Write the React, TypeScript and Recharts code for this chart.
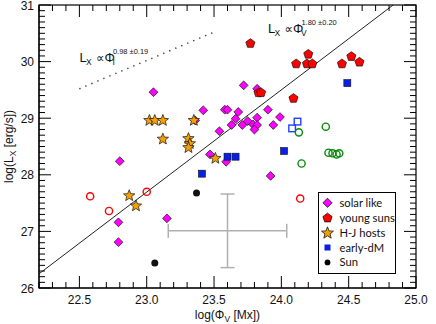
import React from "react";
import {
  ErrorBar,
  Legend,
  ReferenceDot,
  ReferenceLine,
  Scatter,
  ScatterChart,
  XAxis,
  YAxis,
} from "recharts";

// log(Phi_V [Mx]) vs log(L_X [erg/s])
const solarLike = [
  { x: 22.8, y: 28.24 }, { x: 22.79, y: 27.16 }, { x: 22.79, y: 26.81 },
  { x: 23.15, y: 27.23 }, { x: 23.05, y: 29.46 }, { x: 23.42, y: 29.14 },
  { x: 23.36, y: 28.96 }, { x: 23.47, y: 28.36 }, { x: 23.59, y: 28.23 },
  { x: 23.72, y: 29.58 }, { x: 23.82, y: 29.52 }, { x: 23.58, y: 29.15 },
  { x: 23.6, y: 29.15 }, { x: 23.68, y: 29.11 }, { x: 23.66, y: 28.99 },
  { x: 23.75, y: 28.95 }, { x: 23.82, y: 29.01 }, { x: 23.9, y: 29.15 },
  { x: 23.99, y: 29.02 }, { x: 23.63, y: 28.88 }, { x: 23.71, y: 28.88 },
  { x: 23.79, y: 28.89 }, { x: 23.82, y: 28.88 }, { x: 23.8, y: 28.8 },
  { x: 23.94, y: 28.88 }, { x: 23.54, y: 28.77 }, { x: 23.92, y: 27.98 },
];
const youngSuns = [
  { x: 23.77, y: 30.32 }, { x: 24.2, y: 30.13 }, { x: 24.11, y: 29.96 },
  { x: 24.19, y: 29.96 }, { x: 24.23, y: 29.96 }, { x: 24.45, y: 29.96 },
  { x: 24.52, y: 30.09 }, { x: 24.58, y: 29.99 }, { x: 23.83, y: 29.45 },
  { x: 23.85, y: 29.45 }, { x: 24.09, y: 29.35 },
];
const redOpen = [
  { x: 22.58, y: 27.62 }, { x: 22.72, y: 27.36 }, { x: 23.0, y: 27.7 }, { x: 24.14, y: 27.58 },
];
const hjHosts = [
  { x: 23.02, y: 28.96 }, { x: 23.06, y: 28.96 }, { x: 23.12, y: 28.96 },
  { x: 23.35, y: 28.96 }, { x: 23.12, y: 28.63 }, { x: 23.31, y: 28.64 },
  { x: 23.32, y: 28.55 }, { x: 23.31, y: 28.48 }, { x: 23.51, y: 28.29 },
  { x: 22.87, y: 27.63 }, { x: 22.92, y: 27.45 },
];
const earlyDM = [
  { x: 24.49, y: 29.62 }, { x: 24.02, y: 28.42 }, { x: 23.6, y: 28.32 },
  { x: 23.66, y: 28.32 }, { x: 23.41, y: 28.02 },
];
const earlyDMOpen = [{ x: 24.08, y: 28.82 }, { x: 24.12, y: 28.94 }];
const greenOpen = [
  { x: 24.13, y: 28.75 }, { x: 24.33, y: 28.85 }, { x: 24.15, y: 28.2 },
  { x: 24.35, y: 28.39 }, { x: 24.38, y: 28.38 }, { x: 24.41, y: 28.36 }, { x: 24.43, y: 28.38 },
];
const sun = [{ x: 23.37, y: 27.68 }, { x: 23.06, y: 26.44 }];
const typicalError = [{ x: 23.6, y: 27.01, ex: 0.44, ey: 0.65 }];

// power-law fits
const fitV = [{ x: 22.2, y: 26.25 }, { x: 24.83, y: 31.0 }];
const fitI = [{ x: 22.5, y: 29.52 }, { x: 23.49, y: 30.51 }];

const xDomain = [22.2, 25.0];
const yDomain = [26, 31];
const xMajor = [22.5, 23.0, 23.5, 24.0, 24.5, 25.0];
const yMajor = [26, 27, 28, 29, 30, 31];
const legendItems = ["solar like", "young suns", "H-J hosts", "early-dM", "Sun"];

const minorTicks = (lo: number, hi: number) => {
  const out: number[] = [];
  for (let v = Math.round(lo * 10); v <= Math.round(hi * 10); v++) out.push(v / 10);
  return out;
};
const xTicks = minorTicks(xDomain[0], xDomain[1]);
const yTicks = minorTicks(yDomain[0], yDomain[1]);
const isMajor = (v: number, list: number[]) => list.some((m) => Math.abs(m - v) < 1e-6);

// chart geometry: plot box follows from the margins and axis sizes below
const W = 436;
const H = 324;
const MARGIN = { top: 5, right: 20, bottom: 0, left: 0 };
const Y_AXIS_W = 39;
const X_AXIS_H = 36;
const PLOT = {
  left: MARGIN.left + Y_AXIS_W,
  top: MARGIN.top,
  right: W - MARGIN.right,
  bottom: H - MARGIN.bottom - X_AXIS_H,
};
const px = (v: number) =>
  PLOT.left + ((v - xDomain[0]) / (xDomain[1] - xDomain[0])) * (PLOT.right - PLOT.left);
const py = (v: number) =>
  PLOT.bottom - ((v - yDomain[0]) / (yDomain[1] - yDomain[0])) * (PLOT.bottom - PLOT.top);

const INK = "#111111";
const FONT = "'Liberation Sans', Arial, 'DejaVu Sans', sans-serif";
const MAGENTA = "#ff00ff";
const RED = "#ff0000";
const ORANGE = "#f5a000";
const BLUE = "#0a1ee6";
const GREEN = "#0a8a0a";

const diamondPath = (cx: number, cy: number, r: number) =>
  `M${cx},${cy - r}L${cx + r},${cy}L${cx},${cy + r}L${cx - r},${cy}Z`;
const polyPath = (cx: number, cy: number, n: number, rOut: number, rIn?: number) => {
  const pts: string[] = [];
  const steps = rIn ? n * 2 : n;
  for (let i = 0; i < steps; i++) {
    const r = rIn && i % 2 === 1 ? rIn : rOut;
    const a = -Math.PI / 2 + (i * 2 * Math.PI) / steps;
    pts.push(`${(cx + r * Math.cos(a)).toFixed(2)},${(cy + r * Math.sin(a)).toFixed(2)}`);
  }
  return `M${pts.join("L")}Z`;
};

const Diamond = ({ cx, cy }: any) => (
  <path d={diamondPath(cx, cy, 4.4)} fill={MAGENTA} stroke={INK} strokeWidth={0.7} />
);
const Pentagon = ({ cx, cy }: any) => (
  <path d={polyPath(cx, cy, 5, 4.8)} fill={RED} stroke={INK} strokeWidth={0.7} />
);
const Star = ({ cx, cy }: any) => (
  <path d={polyPath(cx, cy, 5, 6, 2.6)} fill={ORANGE} stroke={INK} strokeWidth={0.7} />
);
const FilledSquare = ({ cx, cy }: any) => (
  <rect x={cx - 3.5} y={cy - 3.5} width={7} height={7} fill={BLUE} stroke={INK} strokeWidth={0.6} />
);
const OpenSquare = ({ cx, cy }: any) => (
  <rect x={cx - 3.3} y={cy - 3.3} width={6.6} height={6.6} fill="none" stroke="#2040ff" strokeWidth={1.4} />
);
const openCircle = (color: string) => ({ cx, cy }: any) => (
  <circle cx={cx} cy={cy} r={3.6} fill="none" stroke={color} strokeWidth={1.4} />
);
const SunDot = ({ cx, cy }: any) => <circle cx={cx} cy={cy} r={3.5} fill={INK} />;
const NoMark = () => <g />;

const XTickLabel = (props: any) => {
  const { x, y, payload } = props;
  const v = payload.value as number;
  if (!isMajor(v, xMajor)) return <g />;
  return (
    <text x={x} y={y + 16} textAnchor="middle" fontSize={12} fontFamily={FONT} fill={INK}>
      {v.toFixed(1)}
    </text>
  );
};
const YTickLabel = (props: any) => {
  const { x, y, payload } = props;
  const v = payload.value as number;
  if (!isMajor(v, yMajor)) return <g />;
  return (
    <text x={x - 5} y={y + 4.5} textAnchor="end" fontSize={12} fontFamily={FONT} fill={INK}>
      {v}
    </text>
  );
};

const XTitle = (props: any) => {
  const { x, y, width } = props.viewBox;
  return (
    <text x={x + width / 2} y={y + 31} textAnchor="middle" fontSize={12} fontFamily={FONT} fill={INK}>
      log(Φ<tspan fontSize={8.5} dy={3}>V</tspan>
      <tspan dy={-3}> [Mx])</tspan>
    </text>
  );
};
const YTitle = (props: any) => {
  const { y, height } = props.viewBox;
  const cy = y + height / 2;
  return (
    <text
      x={12.5}
      y={cy}
      transform={`rotate(-90 12.5 ${cy})`}
      textAnchor="middle"
      fontSize={12}
      fontFamily={FONT}
      fill={INK}
    >
      log(L<tspan fontSize={8.5} dy={3}>X</tspan>
      <tspan dy={-3}> [erg/s])</tspan>
    </text>
  );
};

const powerLabel = (sub: string, exponent: string) => (props: any) => {
  const { x, y } = props.viewBox;
  return (
    <g fontFamily={FONT} fill={INK}>
      <text x={x} y={y} fontSize={13}>L</text>
      <text x={x + 6.5} y={y + 3.5} fontSize={8.5}>X</text>
      <text x={x + 16.5} y={y} fontSize={12}>∝</text>
      <text x={x + 25} y={y} fontSize={13}>Φ</text>
      <text x={x + 33} y={y + 3.5} fontSize={8.5}>{sub}</text>
      <text x={x + 33.5} y={y - 8} fontSize={7.5}>{exponent}</text>
    </g>
  );
};

const LegendBox = () => {
  const rowY = (i: number) => 10.8 + i * 14.9;
  const mx = 9.5;
  return (
    <svg width={78} height={82} style={{ display: "block" }}>
      <rect x={0.5} y={0.5} width={77} height={81} fill="#fff" stroke="#000" strokeWidth={1} />
      <path d={diamondPath(mx, rowY(0), 4.6)} fill={MAGENTA} stroke="#000" strokeWidth={0.7} />
      <path d={polyPath(mx, rowY(1) + 0.3, 5, 4.8)} fill={RED} stroke="#000" strokeWidth={0.7} />
      <path d={polyPath(mx, rowY(2) + 0.5, 5, 6.3, 2.7)} fill={ORANGE} stroke="#000" strokeWidth={0.7} />
      <rect x={mx - 3} y={rowY(3) - 3} width={6} height={6} fill={BLUE} />
      <circle cx={mx} cy={rowY(4)} r={2.9} fill="#000" />
      {legendItems.map((t, i) => (
        <text key={t} x={21.5} y={rowY(i) + 4} fontSize={11.2} fontFamily="Lato, 'Open Sans', sans-serif" fill="#111">
          {t}
        </text>
      ))}
    </svg>
  );
};

// IDL-style box: full frame with inward ticks on all four sides
const Frame = () => (
  <svg
    width={W}
    height={H}
    style={{ position: "absolute", left: 0, top: 0, pointerEvents: "none" }}
  >
    <rect
      x={PLOT.left}
      y={PLOT.top}
      width={PLOT.right - PLOT.left}
      height={PLOT.bottom - PLOT.top}
      fill="none"
      stroke="#000"
      strokeWidth={1.2}
    />
    {xTicks.map((v) => {
      const len = isMajor(v, xMajor) ? 12 : 6;
      const x = px(v);
      return (
        <g key={`x${v}`}>
          <line x1={x} y1={PLOT.bottom} x2={x} y2={PLOT.bottom - len} stroke="#000" strokeWidth={1} />
          <line x1={x} y1={PLOT.top} x2={x} y2={PLOT.top + len} stroke="#000" strokeWidth={1} />
        </g>
      );
    })}
    {yTicks.map((v) => {
      const len = isMajor(v, yMajor) ? 12 : 6;
      const y = py(v);
      return (
        <g key={`y${v}`}>
          <line x1={PLOT.left} y1={y} x2={PLOT.left + len} y2={y} stroke="#000" strokeWidth={1} />
          <line x1={PLOT.right} y1={y} x2={PLOT.right - len} y2={y} stroke="#000" strokeWidth={1} />
        </g>
      );
    })}
  </svg>
);

export default function App() {
  return (
    <div style={{ position: "absolute", left: 0, top: 0, width: W, height: H, background: "#fff" }}>
      <ScatterChart width={W} height={H} margin={MARGIN}>
        <XAxis
          type="number"
          dataKey="x"
          domain={xDomain}
          ticks={xTicks}
          interval={0}
          height={X_AXIS_H}
          tickSize={0}
          tickMargin={0}
          tickLine={false}
          tick={XTickLabel}
          axisLine={{ stroke: INK, strokeWidth: 1.2 }}
          label={{ content: XTitle }}
        />
        <YAxis
          type="number"
          dataKey="y"
          domain={yDomain}
          ticks={yTicks}
          interval={0}
          width={Y_AXIS_W}
          tickSize={0}
          tickMargin={0}
          tickLine={false}
          tick={YTickLabel}
          axisLine={{ stroke: INK, strokeWidth: 1.2 }}
          label={{ content: YTitle }}
        />

        <ReferenceLine segment={fitV} stroke="#222" strokeWidth={1} ifOverflow="visible" />
        <ReferenceLine segment={fitI} stroke="#222" strokeWidth={1.4} strokeDasharray="1.2 5.3" ifOverflow="visible" />
        <ReferenceDot x={23.9} y={30.51} r={0} fill="none" stroke="none" label={{ content: powerLabel("V", "1.80 ±0.20") }} />
        <ReferenceDot x={22.5} y={30.0} r={0} fill="none" stroke="none" label={{ content: powerLabel("I", "0.98 ±0.19") }} />

        <Scatter data={typicalError} shape={NoMark} isAnimationActive={false}>
          <ErrorBar dataKey="ex" direction="x" width={7} stroke="#b0b0b0" strokeWidth={1.5} isAnimationActive={false} />
          <ErrorBar dataKey="ey" direction="y" width={7} stroke="#b0b0b0" strokeWidth={1.5} isAnimationActive={false} />
        </Scatter>
        <Scatter name="solar like" data={solarLike} shape={Diamond} isAnimationActive={false} />
        <Scatter name="young suns" data={youngSuns} shape={Pentagon} isAnimationActive={false} />
        <Scatter data={redOpen} shape={openCircle(RED)} isAnimationActive={false} />
        <Scatter name="H-J hosts" data={hjHosts} shape={Star} isAnimationActive={false} />
        <Scatter name="early-dM" data={earlyDM} shape={FilledSquare} isAnimationActive={false} />
        <Scatter data={earlyDMOpen} shape={OpenSquare} isAnimationActive={false} />
        <Scatter data={greenOpen} shape={openCircle(GREEN)} isAnimationActive={false} />
        <Scatter name="Sun" data={sun} shape={SunDot} isAnimationActive={false} />

        <Legend
          layout="vertical"
          align="center"
          verticalAlign="middle"
          content={LegendBox}
          wrapperStyle={{ left: 318, top: 192, width: 78, height: 82 }}
        />
      </ScatterChart>
      <Frame />
    </div>
  );
}
